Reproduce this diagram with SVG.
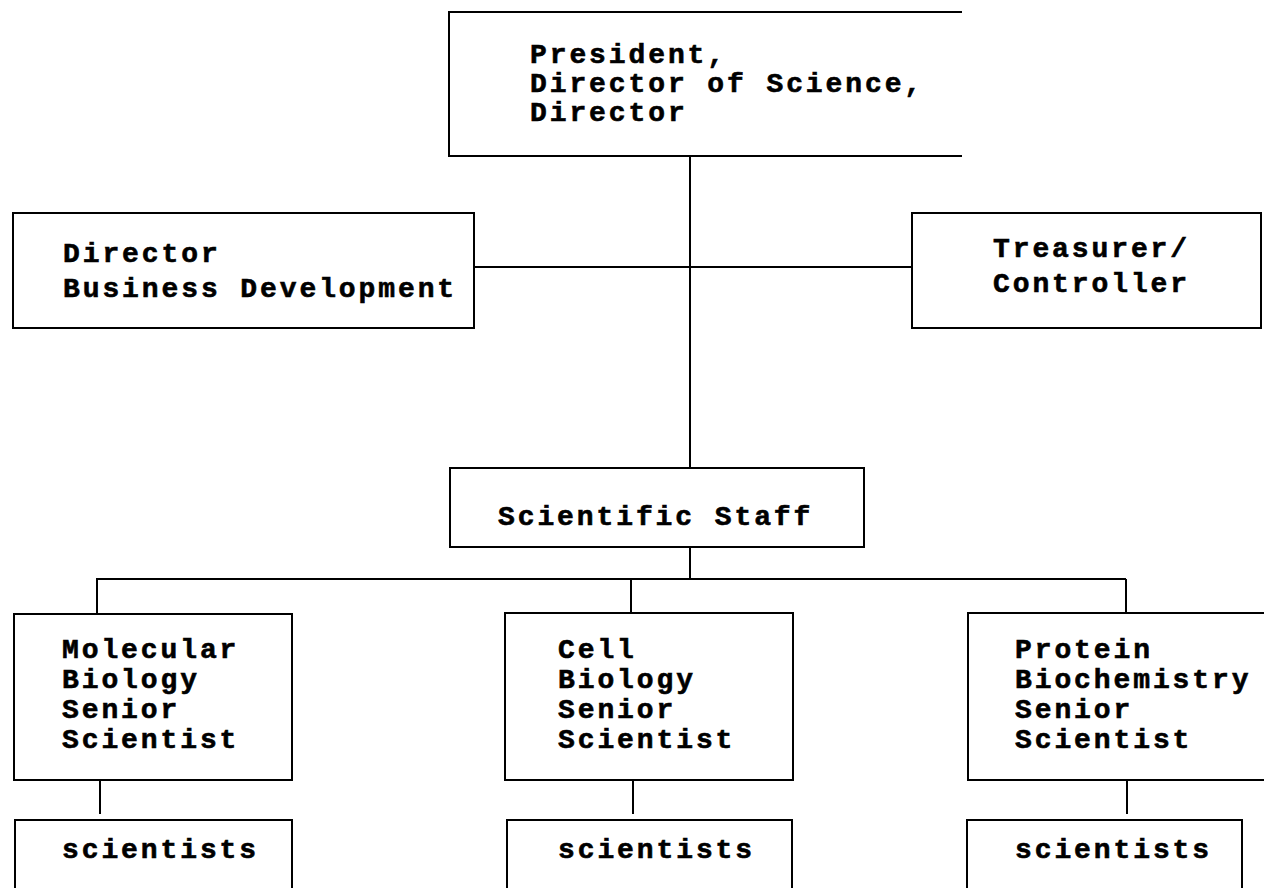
<svg xmlns="http://www.w3.org/2000/svg" width="1264" height="888" viewBox="0 0 1264 888">
<style>
.box{fill:none;stroke:#000;stroke-width:2}
.ln{fill:none;stroke:#000;stroke-width:2}
text{font-family:"Liberation Mono","DejaVu Sans Mono",monospace;font-weight:bold;font-size:28px;letter-spacing:2.9px;fill:#000;stroke:#000;stroke-width:0.6px}
</style>
<rect width="1264" height="888" fill="#fff"/>
<g id="connectors">
<path class="ln" d="M690 156V468M474 267H912M690 548V578M96 579H1126M97 579V613M631 579V613M1126 579V613M100 780V814M633 780V814M1127 780V814"/>
</g>
<g id="president">
<path class="box" d="M962 12H449V156H962"/>
<text x="530" y="63">President,</text>
<text x="530" y="92">Director of Science,</text>
<text x="530" y="121">Director</text>
</g>
<g id="bizdev">
<rect class="box" x="13" y="213" width="461" height="115"/>
<text x="63" y="262">Director</text>
<text x="63" y="297">Business Development</text>
</g>
<g id="treasurer">
<rect class="box" x="912" y="213" width="349" height="115"/>
<text x="993" y="257">Treasurer/</text>
<text x="993" y="292">Controller</text>
</g>
<g id="staff">
<rect class="box" x="450" y="468" width="414" height="79"/>
<text x="498" y="525">Scientific Staff</text>
</g>
<g id="molbio">
<rect class="box" x="14" y="614" width="278" height="166"/>
<text x="62" y="658">Molecular</text>
<text x="62" y="688">Biology</text>
<text x="62" y="718">Senior</text>
<text x="62" y="748">Scientist</text>
</g>
<g id="cellbio">
<rect class="box" x="505" y="613" width="288" height="167"/>
<text x="558" y="658">Cell</text>
<text x="558" y="688">Biology</text>
<text x="558" y="718">Senior</text>
<text x="558" y="748">Scientist</text>
</g>
<g id="protein">
<path class="box" d="M1266 613H968V780H1266"/>
<text x="1015" y="658">Protein</text>
<text x="1015" y="688">Biochemistry</text>
<text x="1015" y="718">Senior</text>
<text x="1015" y="748">Scientist</text>
</g>
<g id="sci1">
<path class="box" d="M15 890V820H292V890"/>
<text x="62" y="858">scientists</text>
</g>
<g id="sci2">
<path class="box" d="M507 890V820H792V890"/>
<text x="558" y="858">scientists</text>
</g>
<g id="sci3">
<path class="box" d="M967 890V820H1242V890"/>
<text x="1015" y="858">scientists</text>
</g>
</svg>
